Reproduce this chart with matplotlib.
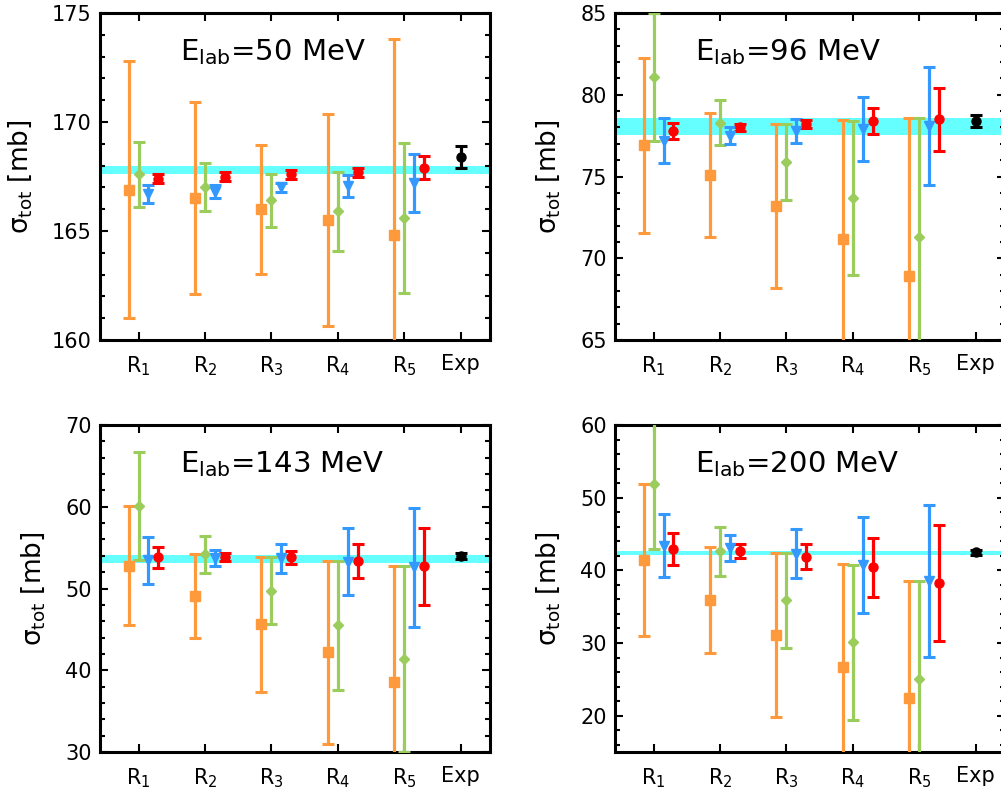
import matplotlib
matplotlib.use("Agg")
import matplotlib.pyplot as plt
from matplotlib.ticker import MultipleLocator

plt.rcParams['font.family'] = ['DejaVu Sans']
plt.rcParams['mathtext.fontset'] = 'dejavusans'

# ---------------- data ----------------
categories = [r"R$_1$", r"R$_2$", r"R$_3$", r"R$_4$", r"R$_5$", "Exp"]
energies = ["50", "96", "143", "200"]

# E = 50 MeV
orange_50 = [166.9, 166.5, 166.0, 165.5, 164.8]
orange_50_err = [5.9, 4.4, 2.95, 4.85, 9.0]
green_50 = [167.6, 167.0, 166.4, 165.9, 165.6]
green_50_err = [1.5, 1.1, 1.2, 1.8, 3.45]
blue_50 = [166.7, 166.8, 167.0, 167.05, 167.2]
blue_50_err = [0.4, 0.3, 0.2, 0.5, 1.33]
red_50 = [167.4, 167.5, 167.6, 167.7, 167.9]
red_50_err = [0.2, 0.2, 0.2, 0.2, 0.53]
exp_50, exp_50_err = 168.4, 0.5
band_50, band_50_err = 167.8, 0.2

# E = 96 MeV
orange_96 = [76.9, 75.1, 73.2, 71.2, 68.9]
orange_96_err = [5.35, 3.8, 5.02, 7.25, 9.65]
green_96 = [81.1, 78.3, 75.9, 73.7, 71.3]
green_96_err = [3.9, 1.38, 2.33, 4.7, 7.25]
blue_96 = [77.2, 77.5, 77.8, 77.9, 78.1]
blue_96_err = [1.4, 0.5, 0.72, 1.95, 3.62]
red_96 = [77.8, 78.0, 78.2, 78.4, 78.5]
red_96_err = [0.5, 0.2, 0.25, 0.78, 1.93]
exp_96, exp_96_err = 78.4, 0.35
band_96, band_96_err = 78.05, 0.5

# E = 143 MeV
orange_143 = [52.8, 49.1, 45.6, 42.2, 38.6]
orange_143_err = [7.3, 5.1, 8.2, 11.2, 14.15]
green_143 = [60.1, 54.2, 49.7, 45.5, 41.4]
green_143_err = [6.6, 2.25, 4.1, 7.9, 11.35]
blue_143 = [53.45, 53.7, 53.7, 53.25, 52.6]
blue_143_err = [2.9, 1.0, 1.75, 4.1, 7.3]
red_143 = [53.8, 53.9, 53.8, 53.4, 52.7]
red_143_err = [1.3, 0.5, 0.75, 2.1, 4.7]
exp_143, exp_143_err = 54.0, 0.35
band_143, band_143_err = 53.6, 0.45

# E = 200 MeV
orange_200 = [41.4, 35.9, 31.1, 26.7, 22.5]
orange_200_err = [10.45, 7.3, 11.3, 14.2, 16.1]
green_200 = [51.9, 42.6, 35.9, 30.1, 25.0]
green_200_err = [9.0, 3.4, 6.55, 10.7, 13.55]
blue_200 = [43.4, 43.1, 42.3, 40.8, 38.5]
blue_200_err = [4.3, 1.8, 3.35, 6.6, 10.45]
red_200 = [42.9, 42.7, 41.9, 40.4, 38.3]
red_200_err = [2.2, 0.95, 1.75, 4.05, 8.0]
exp_200, exp_200_err = 42.5, 0.35
band_200, band_200_err = 42.4, 0.28

panels = [
    dict(E="50", series=[(orange_50, orange_50_err), (green_50, green_50_err),
                         (blue_50, blue_50_err), (red_50, red_50_err)],
         exp=(exp_50, exp_50_err), band=(band_50, band_50_err),
         ylim=(160, 175), major=5, minor=1),
    dict(E="96", series=[(orange_96, orange_96_err), (green_96, green_96_err),
                         (blue_96, blue_96_err), (red_96, red_96_err)],
         exp=(exp_96, exp_96_err), band=(band_96, band_96_err),
         ylim=(65, 85), major=5, minor=1),
    dict(E="143", series=[(orange_143, orange_143_err), (green_143, green_143_err),
                          (blue_143, blue_143_err), (red_143, red_143_err)],
         exp=(exp_143, exp_143_err), band=(band_143, band_143_err),
         ylim=(30, 70), major=10, minor=2),
    dict(E="200", series=[(orange_200, orange_200_err), (green_200, green_200_err),
                          (blue_200, blue_200_err), (red_200, red_200_err)],
         exp=(exp_200, exp_200_err), band=(band_200, band_200_err),
         ylim=(15, 60), major=10, minor=2),
]

# ---------------- style ----------------
colors = ['#FF9A3C', '#9ACD5C', '#3399FF', '#FF0000']
markers = ['s', 'D', 'v', 'o']
msizes = [6.5, 5.3, 6.5, 6.5]
offsets = [-0.15, 0.0, 0.15, 0.30]
group_x = [1, 2, 3, 4, 5]
exp_x = 5.85
tick_x = group_x + [exp_x]

fig = plt.figure(figsize=(10.01, 7.98), dpi=100)
W, H = 0.3896, 0.4098
positions = [[0.0999, 0.5739, W, H], [0.6144, 0.5739, W, H],
             [0.0999, 0.0576, W, H], [0.6144, 0.0576, W, H]]

for pos, p in zip(positions, panels):
    ax = fig.add_axes(pos)
    ax.set_xlim(0.42, 6.29)
    ax.set_ylim(*p['ylim'])
    b, be = p['band']
    ax.axhspan(b - be, b + be, color='#66FFFF', zorder=0, lw=0)
    for (vals, errs), c, m, ms, off in zip(p['series'], colors, markers, msizes, offsets):
        xs = [g + off for g in group_x]
        ax.errorbar(xs, vals, yerr=errs, fmt=m, color=c, ms=ms, mec=c,
                    elinewidth=2.3, capsize=4.3, capthick=2.2, zorder=3)
    ev, ee = p['exp']
    ax.errorbar([exp_x], [ev], yerr=[ee], fmt='o', color='black', ms=6.5,
                elinewidth=2.3, capsize=4.3, capthick=2.2, zorder=3)

    ax.set_xticks(tick_x)
    ax.set_xticklabels(categories)
    ax.yaxis.set_major_locator(MultipleLocator(p['major']))
    ax.yaxis.set_minor_locator(MultipleLocator(p['minor']))
    ax.tick_params(axis='both', which='both', direction='in',
                   top=True, right=True, labelsize=15)
    ax.tick_params(axis='x', which='minor', bottom=False, top=False)
    ax.tick_params(which='major', length=6, width=1.5)
    ax.tick_params(which='minor', length=3.8, width=1.5)
    ax.tick_params(axis='x', which='major', pad=10)
    ax.tick_params(axis='y', which='major', pad=6)
    for s in ax.spines.values():
        s.set_linewidth(2.2)
    ax.set_ylabel(u"σ$_{\\mathrm{tot}}$ [mb]", fontsize=19, labelpad=13)
    ax.text(0.205, 0.856, r"E$_{\mathrm{lab}}$=" + p['E'] + " MeV",
            transform=ax.transAxes, fontsize=21, ha='left', va='baseline')

fig.savefig("out.png", dpi=100)
